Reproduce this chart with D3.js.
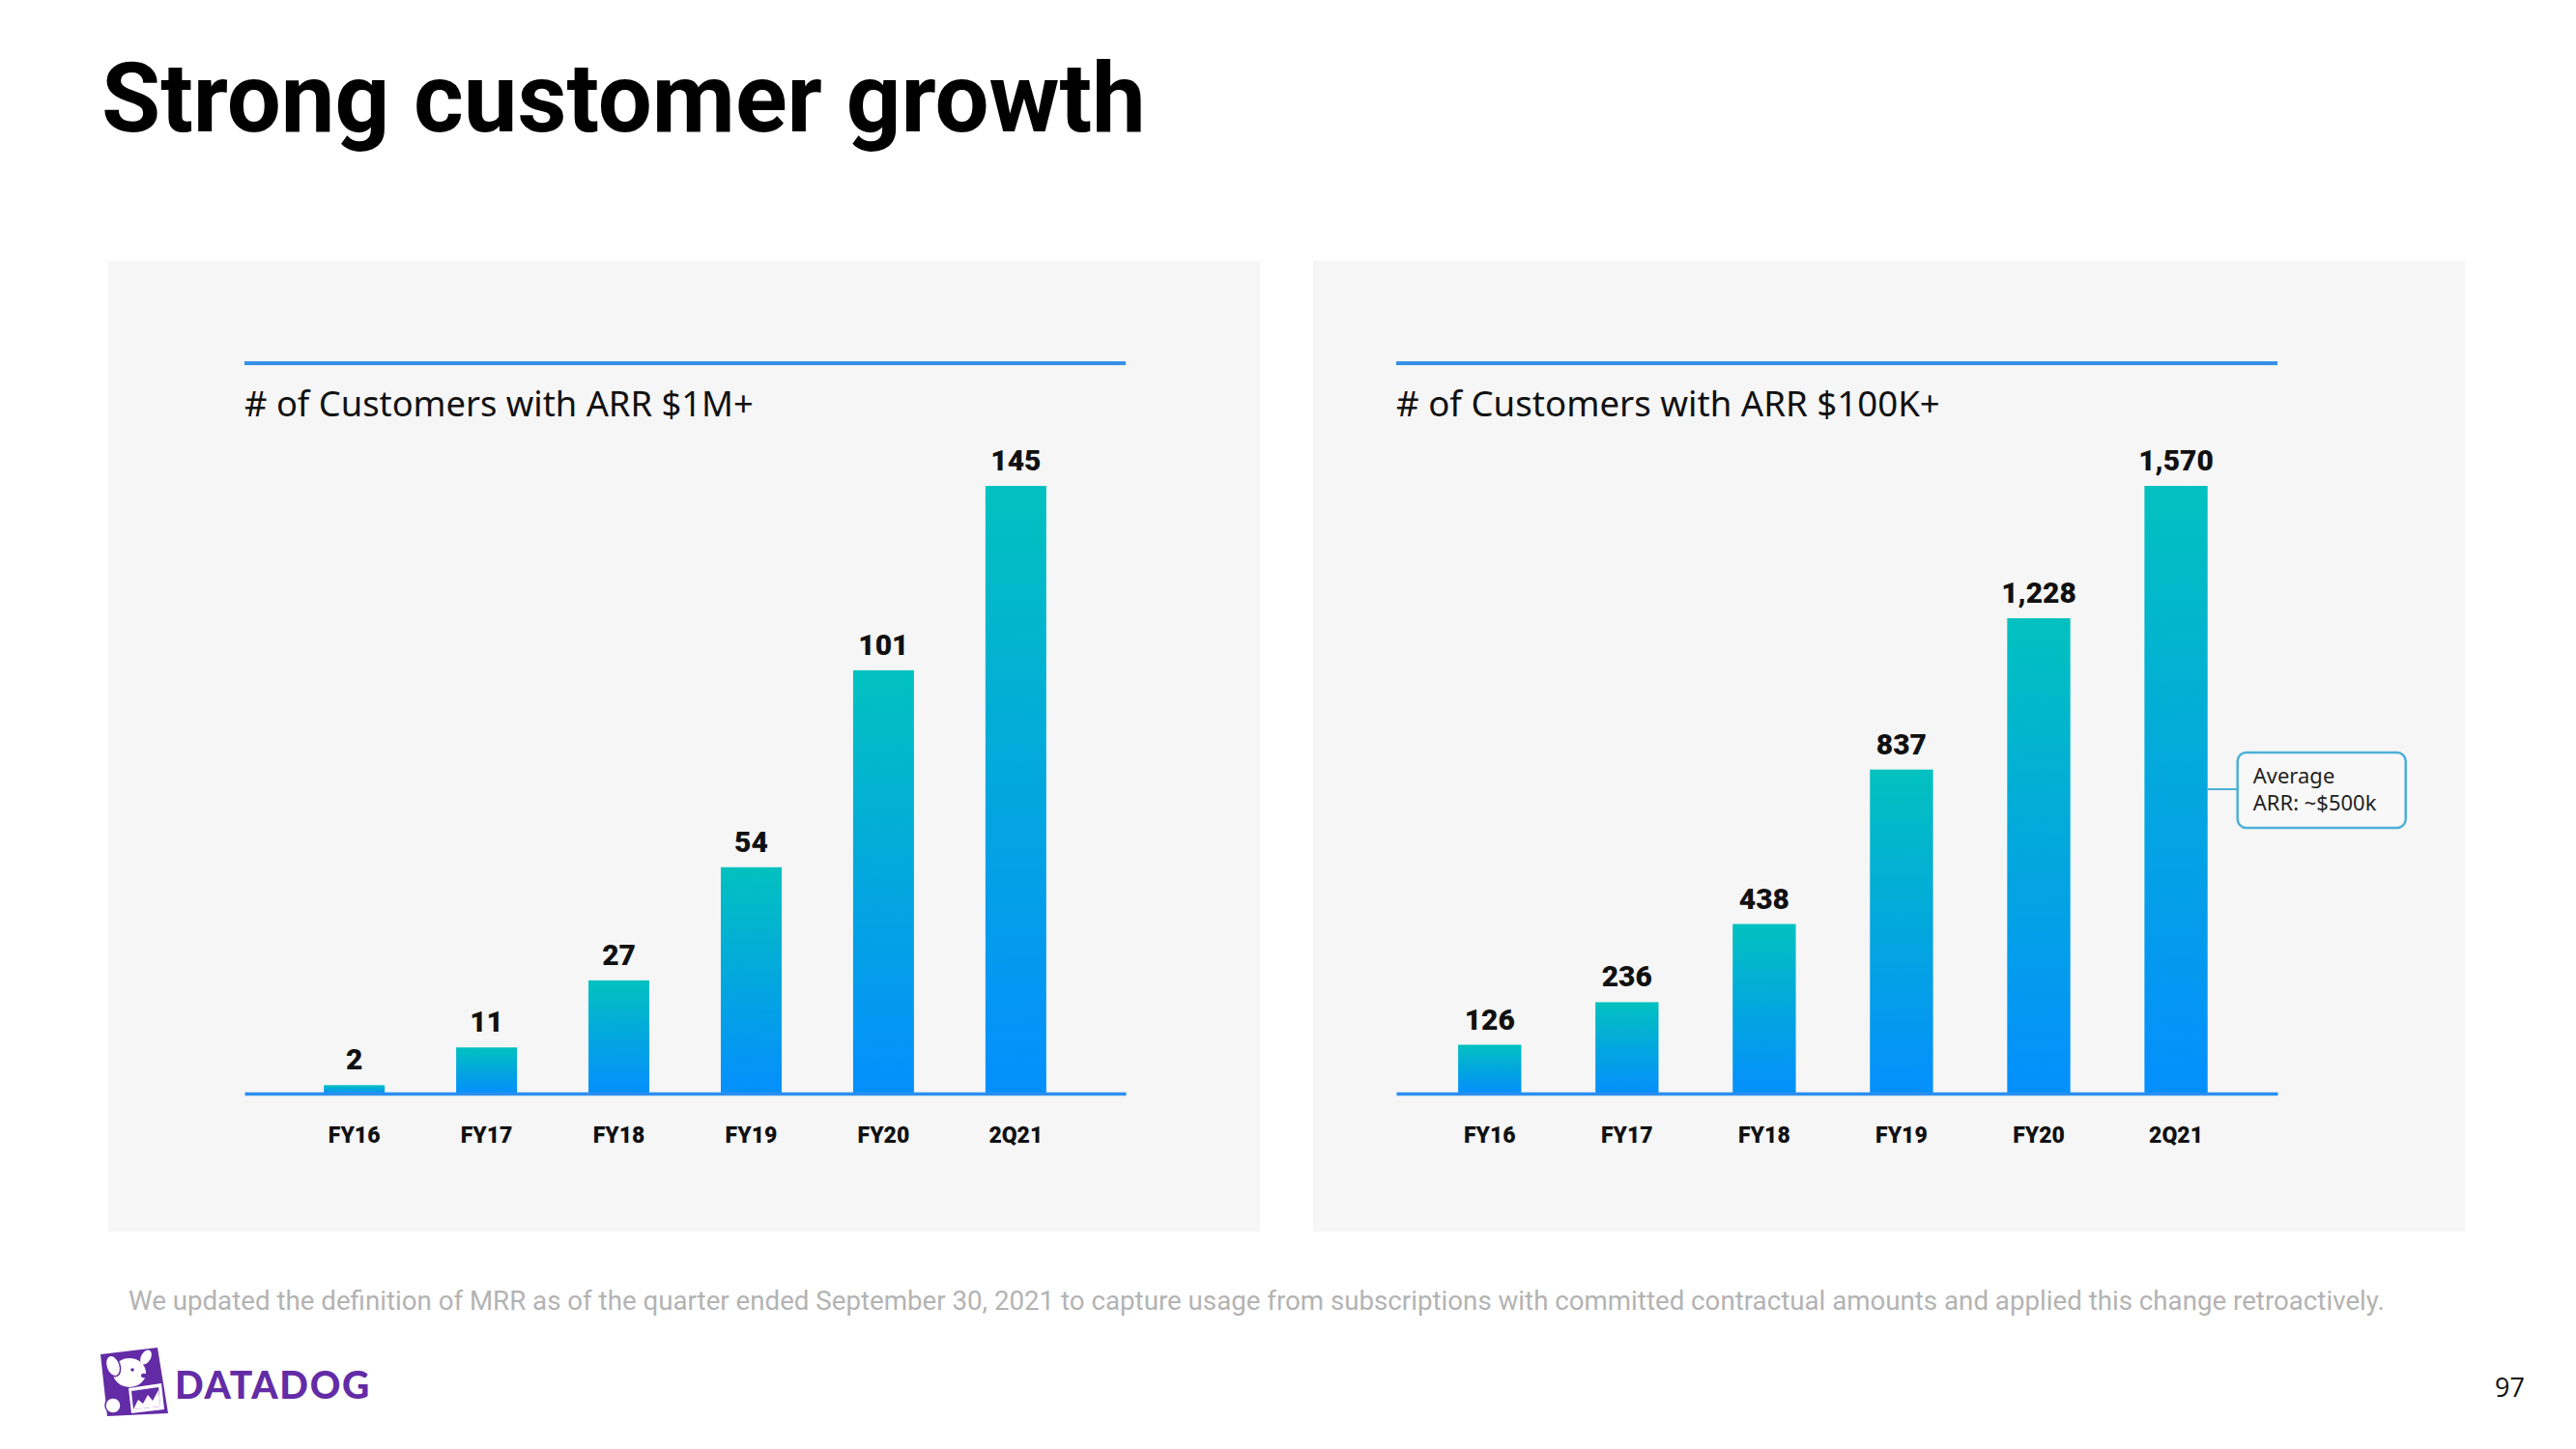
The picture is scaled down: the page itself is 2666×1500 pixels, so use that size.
<!DOCTYPE html>
<html><head><meta charset="utf-8">
<script src="https://cdn.jsdelivr.net/npm/d3@7"></script>
<style>body{margin:0;background:#fff}svg{display:block}</style>
</head><body>
<svg id="c" width="2666" height="1500"></svg>
<script>
// ---- data ----
const categories = ["FY16","FY17","FY18","FY19","FY20","2Q21"];
const customers1M = [2,11,27,54,101,145];
const customers100K = [126,236,438,837,1228,1570];
const valueLabels1M = ["2","11","27","54","101","145"];
const valueLabels100K = ["126","236","438","837","1,228","1,570"];
const chartTitles = ["# of Customers with ARR $1M+","# of Customers with ARR $100K+"];
const pageTitle = "Strong customer growth";
const footnote = "We updated the definition of MRR as of the quarter ended September 30, 2021 to capture usage from subscriptions with committed contractual amounts and applied this change retroactively.";
const annotationLines = ["Average","ARR: ~$500k"];
const pageNumber = "97";
const logoText = "DATADOG";

const svg = d3.select("#c");
function fitWidth(t, w){
  const cur = t.node().getComputedTextLength();
  const fs = parseFloat(t.attr("font-size"));
  t.attr("font-size", fs*w/cur);
}

// gradient
const defs = svg.append("defs");
const g = defs.append("linearGradient").attr("id","barGrad")
  .attr("x1",0).attr("y1",0).attr("x2",0).attr("y2",1);
g.append("stop").attr("offset","0%").attr("stop-color","#02c1bf");
g.append("stop").attr("offset","50%").attr("stop-color","#03a7de");
g.append("stop").attr("offset","100%").attr("stop-color","#058ffd");

// title
const tt = svg.append("text").attr("x",105).attr("y",136)
  .attr("font-family","Roboto").attr("font-weight",700).attr("font-size",100)
  .attr("fill","#000").text(pageTitle);
fitWidth(tt,1081);

const panels = [
 {x:112,y:270,w:1192,h:1005,r0:253,r1:1165,values:customers1M,labels:valueLabels1M,title:chartTitles[0],titleW:527,pi:0.54,po:0.6,align:0.5},
 {x:1359,y:270,w:1192,h:1005,r0:1445,r1:2357,values:customers100K,labels:valueLabels100K,title:chartTitles[1],titleW:563,pi:0.54,po:0.48,align:0.47,annotate:true}
];

panels.forEach(p=>{
  svg.append("rect").attr("x",p.x).attr("y",p.y).attr("width",p.w).attr("height",p.h).attr("fill","#f6f6f6");
  const x = d3.scaleBand().domain(categories).range([p.r0,p.r1]).paddingInner(p.pi).paddingOuter(p.po).align(p.align);
  const y = d3.scaleLinear().domain([0,d3.max(p.values)]).range([1132,503]);
  // top rule
  svg.append("line").attr("x1",p.r0).attr("x2",p.r1).attr("y1",376).attr("y2",376)
    .attr("stroke","#3591e6").attr("stroke-width",4);
  const st = svg.append("text").attr("x",p.r0).attr("y",431)
    .attr("font-family","Noto Sans").attr("font-size",32).attr("fill","#111").text(p.title);
  fitWidth(st,p.titleW);
  // bars
  svg.append("g").selectAll("rect").data(p.values).join("rect")
    .attr("x",(d,i)=>x(categories[i])).attr("width",x.bandwidth())
    .attr("y",d=>y(d)).attr("height",d=>y(0)-y(d))
    .attr("fill","url(#barGrad)");
  // value labels
  svg.append("g").selectAll("text").data(p.values).join("text")
    .attr("x",(d,i)=>x(categories[i])+x.bandwidth()/2).attr("y",d=>y(d)-16)
    .attr("text-anchor","middle").attr("font-family","Roboto").attr("font-weight",900)
    .attr("font-size",30).attr("fill","#111").text((d,i)=>p.labels[i]);
  // axis
  const ax = svg.append("g").attr("transform","translate(0,1132)")
    .call(d3.axisBottom(x).tickSize(0).tickPadding(0));
  ax.select(".domain").attr("stroke","#2a8ff0").attr("stroke-width",3.5);
  ax.selectAll(".tick text").attr("y",51).attr("dy",0)
    .attr("font-family","Roboto").attr("font-weight",900).attr("font-size",23).attr("fill","#111");
  if(p.annotate){
    const last = categories[categories.length-1];
    const bx0 = x(last)+x.bandwidth();
    const boxX = bx0+31, boxY=779, boxW=174, boxH=78;
    svg.append("line").attr("x1",bx0).attr("x2",boxX).attr("y1",817).attr("y2",817)
      .attr("stroke","#4cb0d8").attr("stroke-width",2);
    svg.append("rect").attr("x",boxX).attr("y",boxY).attr("width",boxW).attr("height",boxH)
      .attr("rx",9).attr("fill","#f8f8f8").attr("stroke","#4cb0d8").attr("stroke-width",2.5);
    annotationLines.forEach((s,i)=>{
      svg.append("text").attr("x",boxX+16).attr("y",811+i*28)
        .attr("font-family","Noto Sans").attr("font-size",22).attr("fill","#222").text(s);
    });
  }
});

// footnote
const fn = svg.append("text").attr("x",133).attr("y",1356)
  .attr("font-family","Roboto").attr("font-size",28).attr("fill","#b3b3b3").text(footnote);
fitWidth(fn,2336);

// page number
svg.append("text").attr("x",2613).attr("y",1446).attr("text-anchor","end")
  .attr("font-family","Open Sans").attr("font-size",27).attr("fill","#111").text(pageNumber);

// logo
const purple = "#632ca6";
const lg = svg.append("g");
lg.append("path").attr("d","M104,1402 L163,1395 L174,1463 L111,1466 Z").attr("fill",purple);
// dog head
lg.append("ellipse").attr("cx",134).attr("cy",1421).attr("rx",17).attr("ry",15).attr("fill","#fff");
lg.append("ellipse").attr("cx",117).attr("cy",1414).attr("rx",7).attr("ry",11)
  .attr("transform","rotate(-20,117,1414)").attr("fill","#fff").attr("stroke",purple).attr("stroke-width",1.5);
lg.append("ellipse").attr("cx",151).attr("cy",1405).attr("rx",5).attr("ry",8)
  .attr("transform","rotate(30,151,1405)").attr("fill","#fff");
lg.append("circle").attr("cx",137).attr("cy",1418).attr("r",1.8).attr("fill",purple);
lg.append("ellipse").attr("cx",149).attr("cy",1424).attr("rx",3).attr("ry",2.2).attr("fill",purple);
// paw
lg.append("circle").attr("cx",117).attr("cy",1455).attr("r",8).attr("fill","#fff").attr("stroke",purple).attr("stroke-width",1.5);
// chart frame
lg.append("path").attr("d","M133,1437 L167,1432 L170,1459 L136,1463 Z").attr("fill","#fff");
lg.append("path").attr("d","M136,1440 L164,1436 L166,1456 L138,1459 Z").attr("fill",purple);
lg.append("path").attr("d","M138,1459 L143,1449 L148,1453 L153,1444 L158,1450 L164,1439 L166,1456 Z").attr("fill","#fff");
const lt = lg.append("text").attr("x",181).attr("y",1448)
  .attr("font-family","Lato").attr("font-weight",900).attr("font-size",39).attr("fill",purple).text(logoText);
const lw = lt.node().getComputedTextLength();
lt.attr("letter-spacing",(203-lw)/7);
</script>
</body></html>
